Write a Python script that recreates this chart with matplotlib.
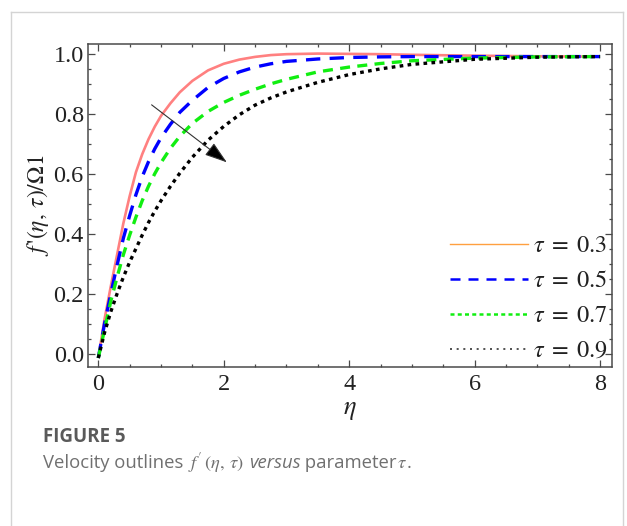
import matplotlib
matplotlib.use("Agg")
import matplotlib.pyplot as plt
from matplotlib.lines import Line2D
from matplotlib.ticker import MultipleLocator

plt.rcParams['mathtext.fontset'] = 'stix'

# ---------------- data ----------------
eta = [0, 0.1, 0.2, 0.3, 0.4, 0.5, 0.6, 0.7, 0.8, 0.9, 1.0, 1.15, 1.3, 1.5, 1.75,
       2.0, 2.25, 2.5, 2.75, 3.0, 3.5, 4.0, 4.5, 5.0, 6.0, 7.0, 8.0]
f_tau03 = [-0.015, 0.115, 0.225, 0.33, 0.435, 0.525, 0.605, 0.665, 0.715, 0.757, 0.793,
           0.835, 0.872, 0.91, 0.945, 0.967, 0.981, 0.99, 0.996, 0.999, 1.001, 1.0,
           0.999, 0.997, 0.994, 0.992, 0.991]
f_tau05 = [-0.015, 0.10, 0.20, 0.295, 0.385, 0.46, 0.53, 0.59, 0.64, 0.683, 0.72,
           0.765, 0.805, 0.845, 0.888, 0.918, 0.94, 0.956, 0.967, 0.975, 0.983, 0.988,
           0.99, 0.991, 0.991, 0.991, 0.991]
f_tau07 = [-0.015, 0.08, 0.175, 0.255, 0.33, 0.395, 0.455, 0.51, 0.558, 0.60, 0.637,
           0.685, 0.725, 0.768, 0.808, 0.838, 0.862, 0.882, 0.90, 0.915, 0.94, 0.956,
           0.968, 0.977, 0.986, 0.99, 0.991]
f_tau09 = [-0.015, 0.07, 0.14, 0.20, 0.255, 0.305, 0.35, 0.395, 0.437, 0.475, 0.51,
           0.558, 0.602, 0.655, 0.712, 0.758, 0.797, 0.829, 0.853, 0.873, 0.905, 0.931,
           0.95, 0.965, 0.982, 0.989, 0.991]
legend_labels = [r"$\tau\;=\;0.3$", r"$\tau\;=\;0.5$", r"$\tau\;=\;0.7$", r"$\tau\;=\;0.9$"]
x_ticks = [0, 2, 4, 6, 8]
y_ticks = [0.0, 0.2, 0.4, 0.6, 0.8, 1.0]
arrow_start = (0.85, 0.83)
arrow_end = (2.05, 0.638)

# ---------------- figure ----------------
W, H = 627, 526
fig = plt.figure(figsize=(W / 100, H / 100), dpi=100)
fig.patch.set_facecolor('white')

# card border
bc = '#d4d4d4'
fig.add_artist(Line2D([11 / W, 623 / W], [1 - 12 / H, 1 - 12 / H], color=bc, lw=1.0, transform=fig.transFigure))
fig.add_artist(Line2D([11 / W, 11 / W], [0, 1 - 12 / H], color=bc, lw=1.0, transform=fig.transFigure))
fig.add_artist(Line2D([623 / W, 623 / W], [0, 1 - 12 / H], color=bc, lw=1.0, transform=fig.transFigure))

ax = fig.add_axes([88 / W, 1 - 367 / H, (612 - 88) / W, (367 - 44) / H])
ax.set_xlim(-0.164, 8.19)
ax.set_ylim(-0.045, 1.033)

lw = 2.4
ax.plot(eta, f_tau03, color='#FF8080', lw=1.9, solid_capstyle='butt', solid_joinstyle='round')
ax.plot(eta, f_tau05, color='#0000FF', lw=lw, dashes=(4.3, 2.8))
ax.plot(eta, f_tau07, color='#11EE11', lw=lw, dashes=(3.0, 2.2))
ax.plot(eta, f_tau09, color='black', lw=lw, dashes=(1.1, 1.3))

ax.annotate('', xy=arrow_end, xytext=arrow_start,
            arrowprops=dict(arrowstyle='-|>,head_length=1.0,head_width=0.33', color='black',
                            lw=0.8, shrinkA=0, shrinkB=0, mutation_scale=14,
                            ec='#333333', fc='black'))

serif = 'Liberation Serif'
spc = '#4a4a4a'
for s in ax.spines.values():
    s.set_color(spc)
    s.set_linewidth(1.1)
ax.set_xticks(x_ticks)
ax.set_yticks(y_ticks)
ax.xaxis.set_minor_locator(MultipleLocator(0.5))
ax.yaxis.set_minor_locator(MultipleLocator(0.05))
ax.tick_params(which='both', direction='in', top=True, right=True, color=spc, width=0.9)
ax.tick_params(which='major', length=5)
ax.tick_params(which='minor', length=2.5)
ax.tick_params(axis='x', pad=5)
ax.tick_params(axis='y', pad=3)
ax.set_xticklabels([str(v) for v in x_ticks], fontfamily=serif, fontsize=17.5, color='#222222')
ax.set_yticklabels([f"{v:.1f}" for v in y_ticks], fontfamily=serif, fontsize=17.5, color='#222222')

ax.set_xlabel(r"$\eta$", fontsize=19, color='#222222')
ax.xaxis.set_label_coords(0.5, -0.09)
ax.set_ylabel(r"$f\,\text{'}(\eta,\,\tau)/\Omega 1$", fontsize=17, color='#222222')
ax.yaxis.set_label_coords(-0.07, 0.5)

handles = [
    Line2D([], [], color='#FFA040', lw=1.0),
    Line2D([], [], color='#0000FF', lw=1.8, dashes=(4, 3.2)),
    Line2D([], [], color='#11EE11', lw=1.8, dashes=(1.6, 1.3)),
    Line2D([], [], color='#333333', lw=1.2, dashes=(1.2, 2.8)),
]
leg = ax.legend(handles, legend_labels, loc='lower right', bbox_to_anchor=(1.0, 0.0),
                frameon=False, fontsize=17.5, handlelength=3.2, handletextpad=0.2,
                labelspacing=0.45, borderpad=0.2, borderaxespad=0.0)
for t in leg.get_texts():
    t.set_color('#222222')

# ---------------- caption ----------------
fig.text(43 / W, 1 - 437 / H, "FIGURE 5", fontfamily='Open Sans', fontweight='bold',
         fontsize=13.5, color='#5a5a5a', va='center', ha='left')

pieces = [
    ("Velocity outlines ", dict(fontfamily='Open Sans')),
    (r"$f'\,(\eta,\,\tau)$", dict()),
    (" ", dict(fontfamily='Open Sans')),
    ("versus", dict(fontfamily='Open Sans', fontstyle='italic')),
    (" parameter", dict(fontfamily='Open Sans')),
    (r"$\tau$", dict()),
    (".", dict(fontfamily='Open Sans')),
]
renderer = fig.canvas.get_renderer()
xpos = 43
for txt, kw in pieces:
    t = fig.text(xpos / W, 1 - 468 / H, txt, fontsize=13.3, color='#707070',
                 va='baseline', ha='left', **kw)
    bb = t.get_window_extent(renderer)
    xpos += bb.width

fig.savefig("out.png", dpi=100)
